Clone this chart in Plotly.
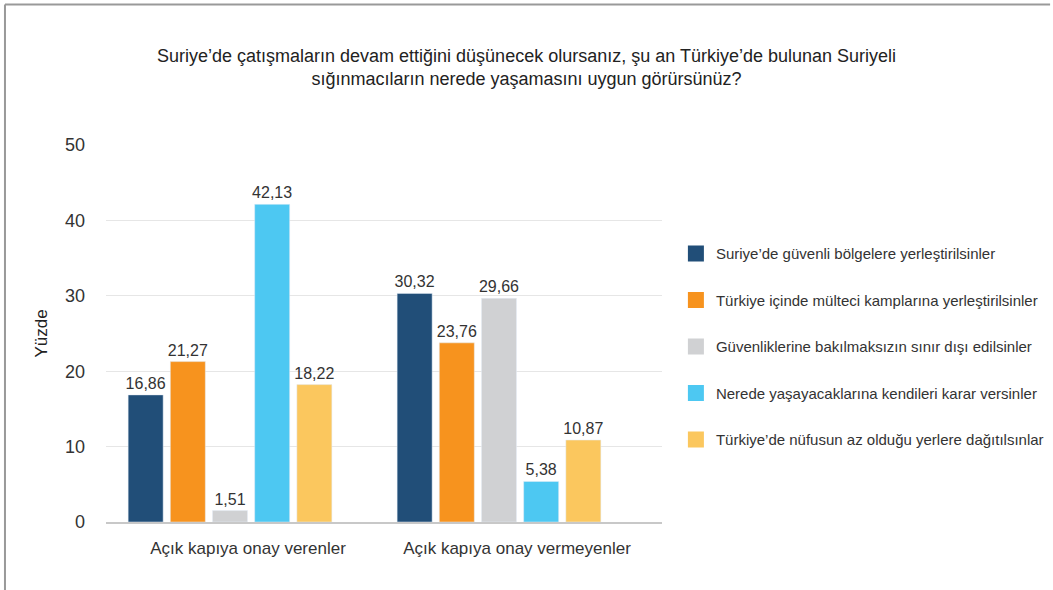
import plotly.graph_objects as go

categories = ["Açık kapıya onay verenler", "Açık kapıya onay vermeyenler"]
series_names = [
    "Suriye’de güvenli bölgelere yerleştirilsinler",
    "Türkiye içinde mülteci kamplarına yerleştirilsinler",
    "Güvenliklerine bakılmaksızın sınır dışı edilsinler",
    "Nerede yaşayacaklarına kendileri karar versinler",
    "Türkiye’de nüfusun az olduğu yerlere dağıtılsınlar",
]
series_values = [
    [16.86, 30.32],
    [21.27, 23.76],
    [1.51, 29.66],
    [42.13, 5.38],
    [18.22, 10.87],
]
colors = ["#214e78", "#f7931e", "#d0d1d3", "#4dc8f2", "#fbc75e"]
y_ticks = [0, 10, 20, 30, 40, 50]

FONT = "Liberation Sans, Arial, sans-serif"
TXT = "#333333"

fig = go.Figure()
for i, (name, vals, col) in enumerate(zip(series_names, series_values, colors)):
    fig.add_trace(go.Bar(
        x=categories, y=vals, name=name, marker_color=col, showlegend=False,
        text=[f"{v:.2f}".replace(".", ",") for v in vals],
        textposition="outside", cliponaxis=False, constraintext="none",
        textfont=dict(family=FONT, size=16, color=TXT),
    ))
for i, (name, col) in enumerate(zip(series_names, colors)):
    fig.add_trace(go.Scatter(
        x=[None], y=[None], mode="markers", name=name, legendgroup=f"g{i}",
        marker=dict(symbol="square", size=20, color=col),
    ))

fig.update_layout(
    width=1053, height=590,
    margin=dict(l=106, r=391, t=145, b=68, autoexpand=False),
    paper_bgcolor="white", plot_bgcolor="white",
    font=dict(family=FONT, color=TXT),
    title=dict(
        text="Suriye’de çatışmaların devam ettiğini düşünecek olursanız, şu an Türkiye’de bulunan Suriyeli<br>sığınmacıların nerede yaşamasını uygun görürsünüz?",
        x=0.5, xanchor="center", y=0.895, yanchor="top",
        font=dict(family=FONT, size=18, color="#222222"),
    ),
    barmode="group", bargap=0.216, bargroupgap=0.17,
    xaxis=dict(range=[-0.461, 1.606], showgrid=False, showline=True,
               linecolor="#c8c8c8", linewidth=2, ticks="", ticklabelshift=18,
               ticklabelstandoff=10,
               tickfont=dict(family=FONT, size=17, color=TXT)),
    yaxis=dict(range=[0, 50], tickvals=y_ticks, showgrid=True, gridcolor="#e6e6e6",
               gridwidth=1, zeroline=False, ticks="", ticklabelstandoff=20,
               tickfont=dict(family=FONT, size=18, color=TXT),
               title=dict(text="Yüzde", font=dict(family=FONT, size=17, color="#222222"), standoff=13)),
    legend=dict(x=1.025, y=0.755, xanchor="left", yanchor="top",
                font=dict(family=FONT, size=15, color=TXT),
                tracegroupgap=24, itemsizing="trace", bgcolor="rgba(0,0,0,0)"),
    shapes=[
        dict(type="line", xref="paper", yref="paper", x0=-0.1817, x1=1.698,
             y0=1.3727, y1=1.3727, line=dict(color="#999999", width=2)),
        dict(type="line", xref="paper", yref="paper", x0=-0.1817, x1=-0.1817,
             y0=1.3727, y1=-0.19, line=dict(color="#999999", width=2)),
    ],
)

fig.write_html("out.html", config={"displayModeBar": False},
               post_script="document.body.style.margin='0';")
